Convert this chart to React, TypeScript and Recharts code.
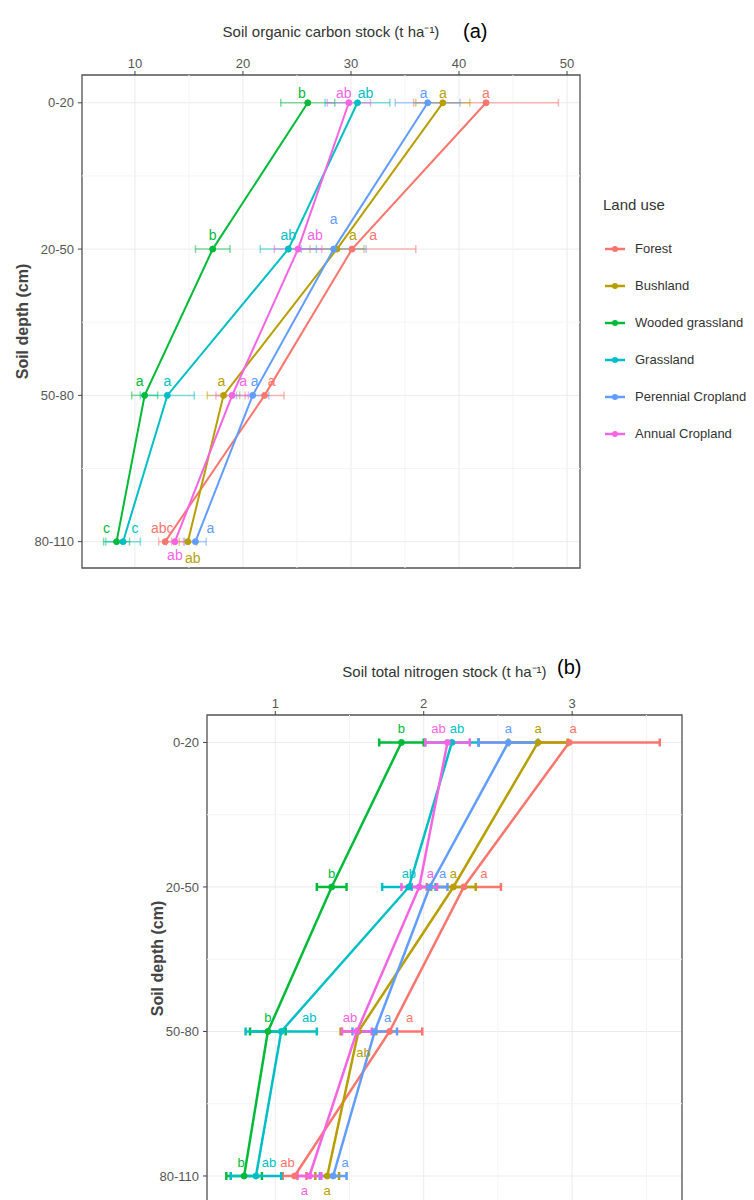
import React from 'react';
import { LineChart, Line, XAxis, YAxis, CartesianGrid, ErrorBar, LabelList, ReferenceLine, ReferenceArea } from 'recharts';

const depthLabels = ['0-20', '20-50', '50-80', '80-110'];
const landUses = ['Forest', 'Bushland', 'Wooded grassland', 'Grassland', 'Perennial Cropland', 'Annual Cropland'];
const landColors = ['#F8766D', '#B79F00', '#00BA38', '#00BFC4', '#619CFF', '#F564E3'];

// (a) soil organic carbon stock (t/ha), one value per depth
const socForest = [42.5, 30.1, 22.0, 12.8];
const socBushland = [38.5, 28.7, 18.2, 14.9];
const socWooded = [26.0, 17.2, 10.9, 8.3];
const socGrassland = [30.6, 24.2, 13.0, 8.9];
const socPerennial = [37.1, 28.4, 20.9, 15.6];
const socAnnual = [29.8, 25.1, 19.0, 13.7];

const socForestSe = [6.7, 5.9, 1.8, 0.6];
const socBushlandSe = [2.5, 2.5, 1.5, 0.8];
const socWoodedSe = [2.5, 1.6, 1.2, 1.2];
const socGrasslandSe = [3.0, 2.6, 2.5, 1.6];
const socPerennialSe = [3.0, 3.0, 1.5, 1.0];
const socAnnualSe = [2.0, 2.2, 1.5, 0.8];

const socForestLetters = ['a', 'a', 'a', 'abc'];
const socBushlandLetters = ['a', 'a', 'a', 'ab'];
const socWoodedLetters = ['b', 'b', 'a', 'c'];
const socGrasslandLetters = ['ab', 'ab', 'a', 'c'];
const socPerennialLetters = ['a', 'a', 'a', 'a'];
const socAnnualLetters = ['ab', 'ab', 'a', 'ab'];

// (b) soil total nitrogen stock (t/ha)
const tnForest = [2.98, 2.27, 1.77, 1.13];
const tnBushland = [2.77, 2.2, 1.56, 1.35];
const tnWooded = [1.85, 1.38, 0.95, 0.79];
const tnGrassland = [2.19, 1.9, 1.04, 0.87];
const tnPerennial = [2.57, 2.04, 1.67, 1.39];
const tnAnnual = [2.16, 1.97, 1.55, 1.23];

const tnForestSe = [0.61, 0.25, 0.22, 0.08];
const tnBushlandSe = [0.2, 0.15, 0.12, 0.08];
const tnWoodedSe = [0.15, 0.1, 0.12, 0.12];
const tnGrasslandSe = [0.18, 0.18, 0.24, 0.17];
const tnPerennialSe = [0.2, 0.12, 0.15, 0.09];
const tnAnnualSe = [0.15, 0.12, 0.1, 0.08];

const tnForestLetters = ['a', 'a', 'a', 'ab'];
const tnBushlandLetters = ['a', 'a', 'ab', 'a'];
const tnWoodedLetters = ['b', 'b', 'b', 'b'];
const tnGrasslandLetters = ['ab', 'ab', 'ab', 'ab'];
const tnPerennialLetters = ['a', 'a', 'a', 'a'];
const tnAnnualLetters = ['ab', 'a', 'ab', 'a'];

// letter placement tweaks [dx, dy] per depth, so labels don't sit on top of each other
const socNudge = [
  [[0, 4], [21, 0], [7, 0], [-3, 0]],
  [[0, 4], [16, 0], [-2, 0], [5, 30]],
  [[-6, 4], [0, 0], [-5, 0], [-10, 0]],
  [[8, 4], [0, 0], [0, 0], [12, 0]],
  [[-4, 4], [0, -16], [2, 0], [15, 0]],
  [[-5, 4], [17, 0], [11, 0], [0, 27]],
];
const tnNudge = [
  [[4, 0], [20, 0], [20, 0], [-7, 0]],
  [[0, 0], [0, 0], [5, 35], [0, 28]],
  [[0, 0], [0, 0], [0, 0], [-3, 0]],
  [[5, 0], [0, 0], [28, 0], [13, 0]],
  [[0, 0], [13, 0], [13, 0], [12, 0]],
  [[-9, 0], [11, 0], [-7, 0], [-5, 28]],
];

const buildRows = (values: number[][], se: number[][], letters: string[][]) =>
  depthLabels.map((d, i) => {
    const row: any = { depth: i };
    values.forEach((v, k) => {
      row[`v${k}`] = v[i];
      row[`e${k}`] = se[k][i];
      row[`l${k}`] = letters[k][i];
    });
    return row;
  });

const socRows = buildRows(
  [socForest, socBushland, socWooded, socGrassland, socPerennial, socAnnual],
  [socForestSe, socBushlandSe, socWoodedSe, socGrasslandSe, socPerennialSe, socAnnualSe],
  [socForestLetters, socBushlandLetters, socWoodedLetters, socGrasslandLetters, socPerennialLetters, socAnnualLetters],
);
const tnRows = buildRows(
  [tnForest, tnBushland, tnWooded, tnGrassland, tnPerennial, tnAnnual],
  [tnForestSe, tnBushlandSe, tnWoodedSe, tnGrasslandSe, tnPerennialSe, tnAnnualSe],
  [tnForestLetters, tnBushlandLetters, tnWoodedLetters, tnGrasslandLetters, tnPerennialLetters, tnAnnualLetters],
);

const FONT = "'Liberation Sans Narrow', 'Liberation Sans', Arial, sans-serif";
const Y_DOMAIN: [number, number] = [-0.19, 3.18];

type PanelProps = {
  rows: any[];
  xDomain: [number, number];
  xTicks: number[];
  xMinor: number[];
  title: string;
  margin: { top: number; right: number; bottom: number; left: number };
  lineWidth: number;
  errOpacity: number;
  errWidth: number;
  letterSize: number;
  nudge: number[][][];
  yTitleOffset: number;
};

const Panel: React.FC<PanelProps> = ({ rows, xDomain, xTicks, xMinor, title, margin, lineWidth, errOpacity, errWidth, letterSize, nudge, yTitleOffset }) => (
  <LineChart width={754} height={600} data={rows} layout="vertical" margin={margin}>
    <CartesianGrid stroke="#EBEBEB" strokeWidth={1} />
    {xMinor.map(v => <ReferenceLine key={`mx${v}`} x={v} stroke="#F4F4F4" />)}
    {[0.5, 1.5, 2.5].map(v => <ReferenceLine key={`my${v}`} y={v} stroke="#F4F4F4" />)}
    <XAxis
      type="number"
      orientation="top"
      domain={xDomain}
      ticks={xTicks}
      allowDataOverflow
      height={30}
      axisLine={false}
      tickLine={{ stroke: '#444' }}
      tickSize={4}
      tickMargin={3}
      tick={{ fill: '#555', fontSize: 13, fontFamily: FONT }}
      label={{ value: title, position: 'top', offset: 8, fill: '#333', fontSize: 15, fontFamily: FONT }}
    />
    <YAxis
      type="number"
      dataKey="depth"
      domain={Y_DOMAIN}
      ticks={[0, 1, 2, 3]}
      allowDataOverflow
      width={60}
      axisLine={false}
      tickLine={{ stroke: '#444' }}
      tickSize={4}
      tickMargin={4}
      tickFormatter={(v: number) => depthLabels[v]}
      tick={{ fill: '#555', fontSize: 13, fontFamily: FONT }}
      label={{ value: 'Soil depth (cm)', angle: -90, position: 'insideLeft', offset: yTitleOffset, fill: '#444', fontSize: 16, fontWeight: 'bold', fontFamily: 'Liberation Sans, Arial, sans-serif', style: { textAnchor: 'middle' } }}
    />
    <ReferenceArea x1={xDomain[0]} x2={xDomain[1]} y1={Y_DOMAIN[0]} y2={Y_DOMAIN[1]} fill="none" stroke="#555" strokeWidth={1.3} ifOverflow="visible" />
    {landUses.map((name, k) => (
      <Line
        key={name}
        dataKey={`v${k}`}
        name={name}
        stroke={landColors[k]}
        strokeWidth={lineWidth}
        dot={{ r: 3, fill: landColors[k], stroke: landColors[k], strokeWidth: 1 }}
        activeDot={false}
        isAnimationActive={false}
      >
        <ErrorBar dataKey={`e${k}`} direction="x" width={4} stroke={landColors[k]} strokeWidth={errWidth} strokeOpacity={errOpacity} />
        <LabelList
          dataKey={`l${k}`}
          content={(p: any) => {
            const [dx, dy] = nudge[k][p.index] || [0, 0];
            return (
              <text x={p.x + dx} y={p.y - 9 + dy} fill={landColors[k]} fontSize={letterSize} textAnchor="middle" fontFamily={FONT}>
                {p.value}
              </text>
            );
          }}
        />
      </Line>
    ))}
  </LineChart>
);

const LegendBox: React.FC = () => (
  <div style={{ position: 'absolute', left: 603, top: 196, fontFamily: FONT, color: '#333' }}>
    <div style={{ fontSize: 15, height: 34 }}>Land use</div>
    {landUses.map((name, k) => (
      <div key={name} style={{ display: 'flex', alignItems: 'center', height: 37 }}>
        <svg width={24} height={12}>
          <line x1={2} y1={6} x2={22} y2={6} stroke={landColors[k]} strokeWidth={2.5} />
          <circle cx={12} cy={6} r={3} fill={landColors[k]} />
        </svg>
        <span style={{ fontSize: 13, marginLeft: 8 }}>{name}</span>
      </div>
    ))}
  </div>
);

export default function App() {
  return (
    <div style={{ position: 'absolute', left: 0, top: 0, width: 754, height: 1200, overflow: 'hidden', background: '#fff' }}>
      <div style={{ position: 'absolute', left: 0, top: 0 }}>
        <Panel
          rows={socRows}
          xDomain={[5.1, 51.2]}
          xTicks={[10, 20, 30, 40, 50]}
          xMinor={[15, 25, 35, 45]}
          title="Soil organic carbon stock (t ha⁻¹)"
          margin={{ top: 45, right: 174, bottom: 32, left: 22 }}
          lineWidth={2}
          errOpacity={0.5}
          errWidth={1.5}
          letterSize={14}
          nudge={socNudge}
          yTitleOffset={0}
        />
      </div>
      <div style={{ position: 'absolute', left: 463, top: 20, fontSize: 20, fontFamily: 'Liberation Sans, Arial, sans-serif', color: '#000' }}>(a)</div>
      <LegendBox />
      <div style={{ position: 'absolute', left: 0, top: 640 }}>
        <Panel
          rows={tnRows}
          xDomain={[0.54, 3.74]}
          xTicks={[1, 2, 3]}
          xMinor={[1.5, 2.5, 3.5]}
          title="Soil total nitrogen stock (t ha⁻¹)"
          margin={{ top: 45, right: 72, bottom: 38, left: 147 }}
          lineWidth={2.5}
          errOpacity={1}
          errWidth={2.5}
          letterSize={13}
          nudge={tnNudge}
          yTitleOffset={10}
        />
      </div>
      <div style={{ position: 'absolute', left: 557, top: 656, fontSize: 20, fontFamily: 'Liberation Sans, Arial, sans-serif', color: '#000' }}>(b)</div>
    </div>
  );
}
